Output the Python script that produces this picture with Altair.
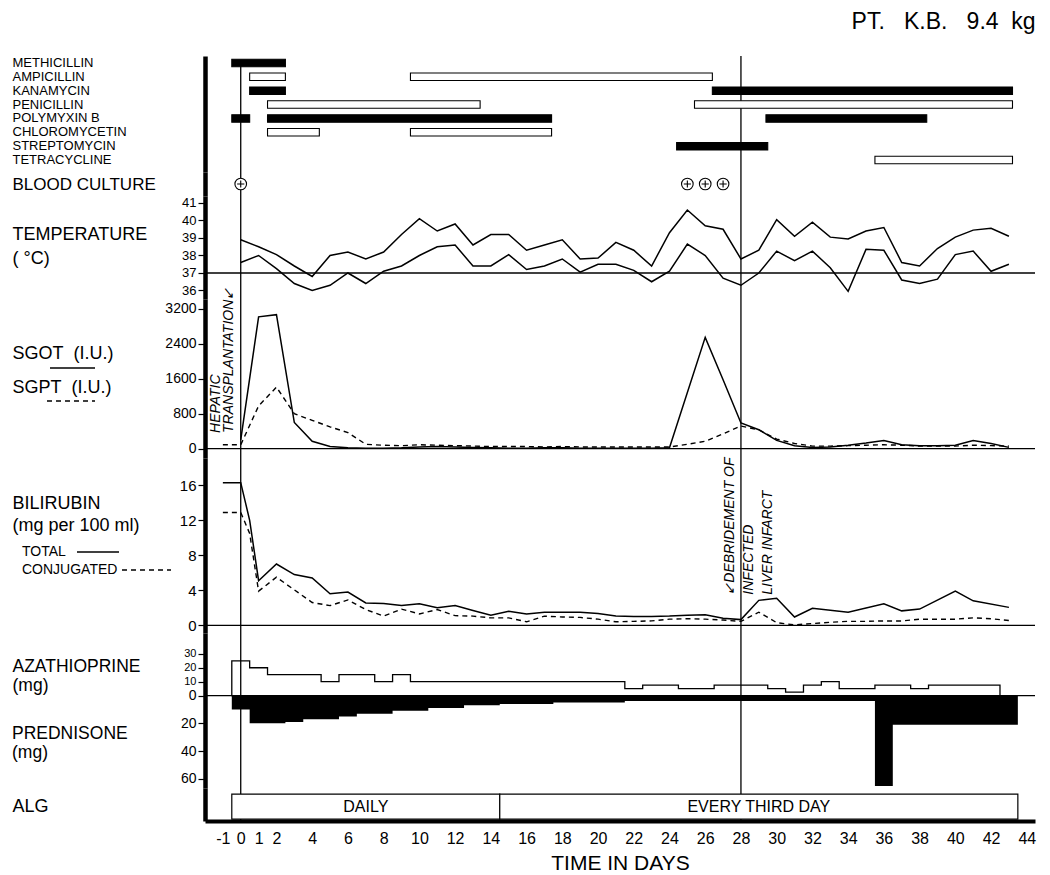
import altair as alt
import pandas as pd

FONT = "Liberation Sans"

# ---------------- data ----------------
x_domain = [-2, 44.46]
x_ticks = [-1, 0, 1, 2] + list(range(4, 45, 2))
event_days = [0, 28]

drugs = ["METHICILLIN", "AMPICILLIN", "KANAMYCIN", "PENICILLIN",
         "POLYMYXIN B", "CHLOROMYCETIN", "STREPTOMYCIN", "TETRACYCLINE"]
course_drug = ["METHICILLIN", "AMPICILLIN", "AMPICILLIN", "KANAMYCIN", "KANAMYCIN",
               "PENICILLIN", "PENICILLIN", "POLYMYXIN B", "POLYMYXIN B", "POLYMYXIN B",
               "CHLOROMYCETIN", "CHLOROMYCETIN", "STREPTOMYCIN", "TETRACYCLINE"]
course_start = [-0.5, 0.5, 9.5, 0.5, 26.4, 1.5, 25.4, -0.5, 1.5, 29.4, 1.5, 9.5, 24.4, 35.5]
course_end = [2.5, 2.5, 26.4, 2.5, 43.2, 13.4, 43.2, 0.5, 17.4, 38.4, 4.4, 17.4, 29.5, 43.2]
course_kind = ["solid", "open", "open", "solid", "solid", "open", "open",
               "solid", "solid", "solid", "open", "open", "solid", "open"]

culture_days = [0, 25, 26, 27]

days = list(range(0, 44))
temp_high = [38.9, 38.5, 38.05, 37.4, 36.8, 38.0, 38.2, 37.8, 38.2, 39.2, 40.1, 39.4, 39.8, 38.6,
             39.2, 39.2, 38.3, 38.6, 38.9, 37.8, 37.85, 38.75, 38.3, 37.4, 39.3, 40.6, 39.7, 39.5,
             37.8, 38.3, 40.05, 39.1, 39.9, 39.05, 38.95, 39.4, 39.6, 37.6, 37.4, 38.4, 39.05,
             39.45, 39.55, 39.1]
temp_low = [37.6, 38.0, 37.25, 36.4, 36.0, 36.3, 37.0, 36.4, 37.1, 37.4, 38.0, 38.5, 38.6, 37.4,
            37.4, 38.05, 37.2, 37.4, 37.8, 37.05, 37.5, 37.5, 37.15, 36.5, 37.1, 38.65, 38.0, 36.7,
            36.3, 37.0, 38.25, 37.7, 38.25, 37.3, 35.95, 38.35, 38.3, 36.6, 36.4, 36.65, 38.05,
            38.25, 37.1, 37.5]

sgot_days = list(range(0, 25)) + list(range(26, 44))
sgot = [200, 3020, 3070, 600, 170, 50, 20, 10, 10, 20, 40, 50, 40, 30, 20, 10, 10, 20, 20, 10,
        10, 10, 10, 10, 20,
        2550, 1580, 590, 435, 190, 70, 30, 40, 80, 130, 190, 90, 70, 70, 80, 190, 120, 30]
sgpt_days = list(range(-1, 44))
sgpt = [90, 90, 980, 1410, 800, 650, 500, 370, 100, 80, 70, 90, 80, 70, 60, 50, 50, 50, 40, 50,
        40, 40, 40, 40, 40, 40, 100, 170, 340, 520, 430, 220, 120, 60, 60, 70, 80, 90, 80, 60,
        60, 60, 80, 70, 60]

bili_total_days = [-1, 0, 0.5] + list(range(1, 33)) + [34, 36, 37, 38, 40, 41, 43]
bili_total = [16.3, 16.3, 12.0, 5.1, 7.0, 5.8, 5.4, 3.6, 3.8, 2.55, 2.5, 2.25, 2.45, 2.0, 2.25,
              1.7, 1.15, 1.6, 1.3, 1.5, 1.5, 1.5, 1.35, 1.05, 1.0, 1.0, 1.05, 1.15, 1.2, 0.8,
              0.65, 2.85, 3.1, 0.95, 1.95, 1.5, 2.45, 1.65, 1.85, 3.9, 2.8, 2.05]
bili_conj_days = [-1, 0, 0.5] + list(range(1, 44))
bili_conj = [12.9, 12.9, 10.5, 3.9, 5.5, 4.05, 2.6, 2.25, 2.9, 1.8, 1.05, 1.85, 1.3, 1.8, 1.1,
             1.05, 0.85, 0.85, 0.4, 1.05, 0.95, 0.9, 0.7, 0.4, 0.45, 0.5, 0.7, 0.75, 0.7, 0.6,
             0.45, 1.5, 0.3, 0.05, 0.2, 0.35, 0.45, 0.45, 0.5, 0.5, 0.7, 0.7, 0.7, 0.85, 0.75, 0.55]

aza_start = [-0.5, 0.5, 1.5, 4.5, 5.5, 7.5, 8.5, 9.5, 21.5, 22.5, 24.5, 26.5, 29.5, 30.5,
             31.5, 32.5, 33.5, 35.5, 37.5, 38.5]
aza_dose = [25, 20, 15, 10, 15, 10, 15, 10, 5, 7.5, 5, 7.5, 5, 2.5, 7.5, 10, 5, 7.5, 5, 7.5]
aza_stop = 42.5
pred_start = [-0.5, 0.5, 2.5, 3.5, 5.5, 6.5, 8.5, 10.5, 12.5, 14.5, 17.5, 21.5, 35.5, 36.5]
pred_dose = [10, 20, 19, 17, 15, 13, 11, 9, 7, 6, 5, 4, 65, 21]
pred_stop = 43.5

alg_start = [-0.5, 14.5]
alg_end = [14.5, 43.5]
alg_label = ["DAILY", "EVERY THIRD DAY"]

# ---------------- layout constants ----------------
W = 830
H_A, H_B, H_C, H_D, H_E, H_F, H_G = 116, 24, 103, 159, 175, 155, 33
LX = 193
NB = "\u00a0"
LINE = dict(color="black", strokeWidth=1.3)


def X(field, axis=None):
    return alt.X(field, type="quantitative",
                 scale=alt.Scale(domain=x_domain, nice=False, zero=False), axis=axis)


def title_axis(lines, ty, lh, **kw):
    base = dict(title=lines, titleAngle=0, titleAlign="left", titleBaseline="top",
                titleX=-LX, titleY=ty, titleFontSize=18, titleLineHeight=lh,
                titleFont=FONT, titleFontWeight="normal", titleColor="black", titleLimit=1000,
                tickSize=7, tickWidth=1.2, labelPadding=2, labelFontSize=14, grid=False,
                labelOverlap=False, format="d")
    base.update(kw)
    return alt.Axis(**base)


def band_axis(size):
    return alt.Axis(title=None, ticks=False, tickSize=0, labelAlign="left",
                    labelBaseline="middle", labelPadding=LX, labelFontSize=size,
                    labelLimit=1000, labelFont=FONT)


ev_df = pd.DataFrame({"day": event_days})


def vrules(axis=None):
    return alt.Chart(ev_df).mark_rule(**LINE).encode(x=X("day", axis))


one = pd.DataFrame({"k": [0]})

# ---------------- panel A: antibiotics ----------------
courses = pd.DataFrame({"drug": course_drug, "start": course_start, "end": course_end,
                        "kind": course_kind})
yA_scale = alt.Scale(domain=drugs, paddingInner=0, paddingOuter=0.18, align=0)
yA_axis = band_axis(13)
rule28A = alt.Chart(pd.DataFrame({"day": [28]})).mark_rule(**LINE).encode(x=X("day"))
rule0A = alt.Chart(pd.DataFrame({"day": [0], "drug": [drugs[0]]})).mark_rule(**LINE).encode(
    x=X("day"), y=alt.Y("drug:N", scale=yA_scale, sort=drugs, axis=yA_axis), y2=alt.value(H_A))
barsA = alt.Chart(courses).mark_bar(size=7.5, stroke="black", strokeWidth=1.1).encode(
    x=X("start"), x2="end:Q",
    y=alt.Y("drug:N", scale=yA_scale, sort=drugs, axis=yA_axis),
    fill=alt.Fill("kind:N", scale=alt.Scale(domain=["solid", "open"], range=["black", "white"]),
                  legend=None))
panelA = alt.layer(rule28A, rule0A, barsA).properties(width=W, height=H_A)

# ---------------- panel B: blood culture ----------------
cult = pd.DataFrame({"day": culture_days, "row": ["BLOOD CULTURE"] * len(culture_days)})
yB_axis = band_axis(17)
circB = alt.Chart(cult).mark_point(shape="circle", size=135, filled=False, fill="white",
                                   fillOpacity=1, stroke="black", strokeWidth=1.1, opacity=1).encode(
    x=X("day"), y=alt.Y("row:N", axis=yB_axis))
plusB = alt.Chart(cult).mark_point(shape="M-0.62,0L0.62,0M0,-0.62L0,0.62", size=135,
                                   filled=False, stroke="black", strokeWidth=1.1, opacity=1).encode(
    x=X("day"), y=alt.Y("row:N", axis=yB_axis))
panelB = alt.layer(vrules(), circB, plusB).properties(width=W, height=H_B)

# ---------------- panel C: temperature ----------------
temp = pd.DataFrame({"day": days + days, "temp": temp_high + temp_low,
                     "reading": ["high"] * len(days) + ["low"] * len(days)})
yC_scale = alt.Scale(domain=[35.514, 41.4], nice=False, zero=False)
yC_axis = title_axis(["TEMPERATURE", "(" + NB + "°C)"], 29, 24,
                     values=[36, 37, 38, 39, 40, 41], labelFontSize=13)
lineC = alt.Chart(temp).mark_line(color="black", strokeWidth=1.5).encode(
    x=X("day"), y=alt.Y("temp:Q", scale=yC_scale, axis=yC_axis), detail="reading:N")
base37 = alt.Chart(pd.DataFrame({"temp": [37]})).mark_rule(**LINE).encode(
    y=alt.Y("temp:Q", scale=yC_scale, axis=yC_axis))
panelC = alt.layer(lineC, vrules(), base37).properties(width=W, height=H_C)

# ---------------- panel D: SGOT / SGPT ----------------
yD_scale = alt.Scale(domain=[-213, 3429], nice=False, zero=False)
yD_axis = title_axis(["SGOT" + NB * 2 + "(I.U.)", "SGPT" + NB * 2 + "(I.U.)"], 45.5, 34,
                     values=[0, 800, 1600, 2400, 3200], labelFontSize=14)
sgot_df = pd.DataFrame({"day": sgot_days, "iu": sgot})
sgpt_df = pd.DataFrame({"day": sgpt_days, "iu": sgpt})
lineSGOT = alt.Chart(sgot_df).mark_line(color="black", strokeWidth=1.5).encode(
    x=X("day"), y=alt.Y("iu:Q", scale=yD_scale, axis=yD_axis))
lineSGPT = alt.Chart(sgpt_df).mark_line(color="black", strokeWidth=1.4, strokeDash=[5, 4]).encode(
    x=X("day"), y=alt.Y("iu:Q", scale=yD_scale, axis=yD_axis))
zeroD = alt.Chart(pd.DataFrame({"iu": [0]})).mark_rule(**LINE).encode(
    y=alt.Y("iu:Q", scale=yD_scale, axis=yD_axis))
hep = pd.DataFrame({"day": [-1.79], "iu": [360], "note": ["HEPATIC\nTRANSPLANTATION\u2199"]})
textHep = alt.Chart(hep).mark_text(angle=270, align="left", baseline="top", lineBreak="\n",
                                   lineHeight=13, fontSize=14, fontStyle="italic",
                                   color="black").encode(
    x=X("day"), y=alt.Y("iu:Q", scale=yD_scale, axis=yD_axis), text="note:N")
keySGOT = alt.Chart(one).mark_rule(**LINE).encode(
    x=alt.value(-155), x2=alt.value(-110), y=alt.value(69))
keySGPT = alt.Chart(one).mark_rule(color="black", strokeWidth=1.3, strokeDash=[5, 4]).encode(
    x=alt.value(-158), x2=alt.value(-110), y=alt.value(102))
panelD = alt.layer(lineSGOT, zeroD, vrules(), lineSGPT, textHep, keySGOT, keySGPT).properties(
    width=W, height=H_D)

# ---------------- panel E: bilirubin ----------------
yE_scale = alt.Scale(domain=[-0.88, 19.12], nice=False, zero=False)
yE_axis = title_axis(["BILIRUBIN", "(mg per 100 ml)"], 36.5, 22,
                     values=[0, 4, 8, 12, 16], labelFontSize=15)
tot_df = pd.DataFrame({"day": bili_total_days, "mg": bili_total})
conj_df = pd.DataFrame({"day": bili_conj_days, "mg": bili_conj})
lineTot = alt.Chart(tot_df).mark_line(color="black", strokeWidth=1.5).encode(
    x=X("day"), y=alt.Y("mg:Q", scale=yE_scale, axis=yE_axis))
lineConj = alt.Chart(conj_df).mark_line(color="black", strokeWidth=1.4, strokeDash=[5, 4]).encode(
    x=X("day"), y=alt.Y("mg:Q", scale=yE_scale, axis=yE_axis))
zeroE = alt.Chart(pd.DataFrame({"mg": [0]})).mark_rule(**LINE).encode(
    y=alt.Y("mg:Q", scale=yE_scale, axis=yE_axis))
deb = pd.DataFrame({"day": [27.0], "mg": [3.5],
                    "note": ["\u2199DEBRIDEMENT OF\n" + NB * 3 + "INFECTED\n" + NB + "LIVER INFARCT"]})
textDeb = alt.Chart(deb).mark_text(angle=270, align="left", baseline="top", lineBreak="\n",
                                   lineHeight=19, fontSize=14, fontStyle="italic",
                                   color="black").encode(
    x=X("day"), y=alt.Y("mg:Q", scale=yE_scale, axis=yE_axis), text="note:N")
txtTotal = alt.Chart(one).mark_text(align="left", baseline="middle", fontSize=14,
                                    color="black").encode(
    x=alt.value(-183), y=alt.value(94), text=alt.value("TOTAL"))
txtConj = alt.Chart(one).mark_text(align="left", baseline="middle", fontSize=14,
                                   color="black").encode(
    x=alt.value(-183), y=alt.value(112), text=alt.value("CONJUGATED"))
keyTot = alt.Chart(one).mark_rule(**LINE).encode(
    x=alt.value(-128), x2=alt.value(-86), y=alt.value(94))
keyConj = alt.Chart(one).mark_rule(color="black", strokeWidth=1.3, strokeDash=[5, 4]).encode(
    x=alt.value(-83), x2=alt.value(-34), y=alt.value(112))
panelE = alt.layer(lineTot, zeroE, vrules(), lineConj, textDeb, txtTotal, txtConj, keyTot,
                   keyConj).properties(width=W, height=H_E)

# ---------------- panel F: azathioprine / prednisone ----------------
yF_scale = alt.Scale(domain=[-66.5, 45], nice=False, zero=False)
yF_axis = title_axis(["AZATHIOPRINE", "(mg)"], 24, 19,
                     titleFontSize=17.5,
                     values=[-60, -40, -20, 0, 10, 20, 30],
                     labelExpr="abs(datum.value)",
                     labelFontSize={"condition": {"test": "datum.value > 0", "value": 11},
                                    "value": 14})
aza_df = pd.DataFrame({"day": aza_start + [aza_stop], "mg": aza_dose + [aza_dose[-1]]})
aza_df["base"] = 0
pred_df = pd.DataFrame({"day": pred_start + [pred_stop], "mg": pred_dose + [pred_dose[-1]]})
pred_df["mg"] = -pred_df["mg"]
pred_df["base"] = 0
areaPred = alt.Chart(pred_df).mark_area(interpolate="step-after", color="black").encode(
    x=X("day"), y=alt.Y("mg:Q", scale=yF_scale, axis=yF_axis), y2="base:Q")
areaAza = alt.Chart(aza_df).mark_area(interpolate="step-after", fillOpacity=0, stroke="black",
                                      strokeWidth=1.3).encode(
    x=X("day"), y=alt.Y("mg:Q", scale=yF_scale, axis=yF_axis), y2="base:Q")
zeroF = alt.Chart(pd.DataFrame({"mg": [0]})).mark_rule(**LINE).encode(
    y=alt.Y("mg:Q", scale=yF_scale, axis=yF_axis))
txtPred = alt.Chart(one).mark_text(align="left", baseline="top", fontSize=17.5, lineBreak="\n",
                                   lineHeight=19, color="black").encode(
    x=alt.value(-LX), y=alt.value(92), text=alt.value("PREDNISONE\n(mg)"))
panelF = alt.layer(areaPred, areaAza, zeroF, vrules(), txtPred).properties(width=W, height=H_F)

# ---------------- panel G: ALG + time axis ----------------
alg_df = pd.DataFrame({"start": alg_start, "end": alg_end, "label": alg_label,
                       "row": ["ALG"] * len(alg_start)})
alg_df["mid"] = (alg_df["start"] + alg_df["end"]) / 2
yG_scale = alt.Scale(paddingInner=0, paddingOuter=0.07, align=1)
yG_axis = band_axis(18)
x_axis = alt.Axis(values=x_ticks, title="TIME IN DAYS", titleFontSize=21, titleFontWeight="normal",
                  titlePadding=6, labelFontSize=16, ticks=False, tickSize=0, labelPadding=9,
                  labelOverlap=False, labelFlush=False, grid=False, domainWidth=4,
                  labelExpr="datum.value < 0 ? '-' + abs(datum.value) : datum.label")
barsG = alt.Chart(alg_df).mark_bar(size=25, fill="white", stroke="black", strokeWidth=1.2).encode(
    x=X("start", x_axis), x2="end:Q",
    y=alt.Y("row:N", scale=yG_scale, axis=yG_axis))
textG = alt.Chart(alg_df).mark_text(fontSize=16, color="black", baseline="middle").encode(
    x=X("mid", x_axis), y=alt.Y("row:N", scale=yG_scale, axis=yG_axis), text="label:N")
panelG = alt.layer(vrules(x_axis), barsG, textG).properties(width=W, height=H_G)

# ---------------- assemble ----------------
chart = alt.vconcat(
    panelA, panelB, panelC, panelD, panelE, panelF, panelG,
    spacing=0, bounds="flush",
    title=alt.TitleParams("PT." + NB * 3 + "K.B." + NB * 3 + "9.4" + NB * 2 + "kg", anchor="end",
                          fontSize=23, fontWeight="normal", font=FONT, color="black", offset=21),
).properties(
    padding={"left": 4, "top": 3, "right": 5, "bottom": 5}
).configure(
    font=FONT
).configure_view(
    stroke=None
).configure_axis(
    domainColor="black", domainWidth=4.5, tickColor="black", labelColor="black",
    titleColor="black", labelFont=FONT, titleFont=FONT, grid=False
)

chart.save("out.html", embed_options={"renderer": "svg", "actions": False})
